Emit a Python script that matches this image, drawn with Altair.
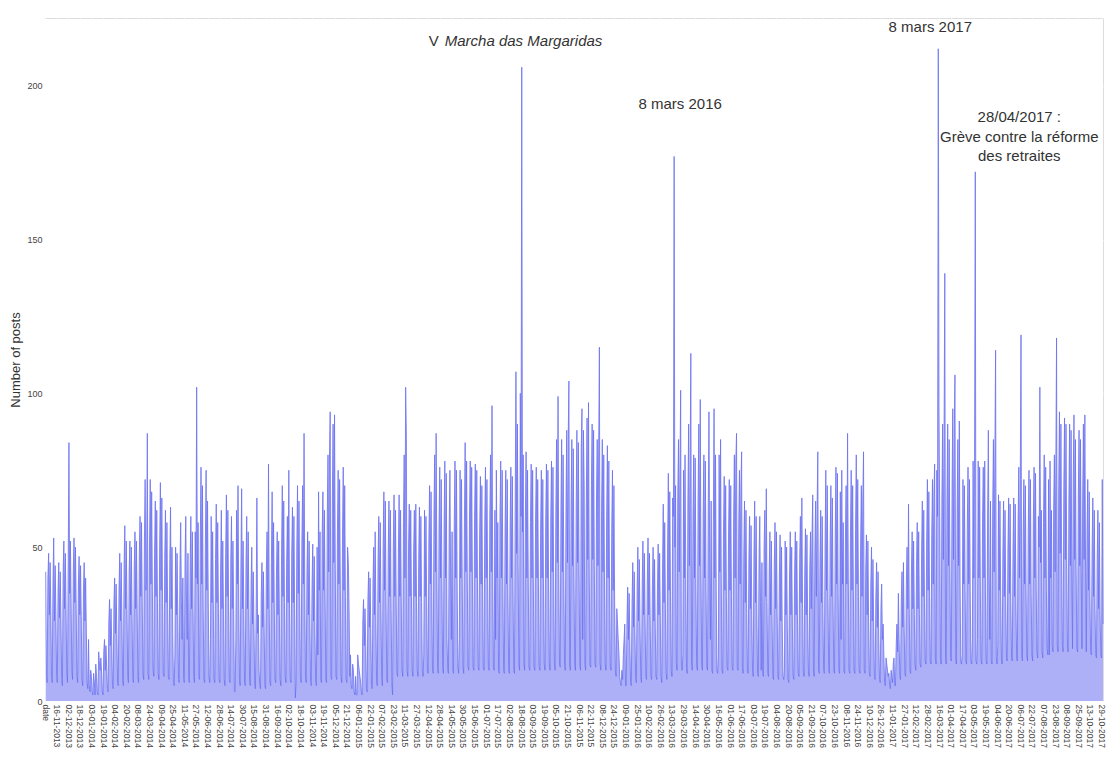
import altair as alt
import pandas as pd

# Daily number of posts (rows = Monday..Sunday weeks).
# 01-11-2013 (Fri) .. 05-01-2014
posts_2013 = [
    42, 8, 6,
    40, 48, 28, 45, 30, 8, 6,
    38, 53, 26, 44, 28, 8, 6,
    36, 45, 27, 42, 26, 7, 5,
    42, 52, 30, 48, 30, 9, 6,
    45, 84, 35, 52, 32, 10, 7,
    42, 53, 32, 50, 30, 8, 6,
    38, 47, 28, 44, 26, 7, 5,
    36, 45, 26, 40, 22, 6, 4,
    20, 5, 3, 10, 8, 3, 2,
]
# 06-01-2014 .. 04-01-2015
posts_2014 = [
    9, 6, 2, 12, 8, 3, 2,
    16, 12, 10, 14, 9, 3, 2,
    16, 20, 10, 18, 11, 4, 3,
    26, 33, 18, 30, 18, 5, 4,
    32, 40, 22, 38, 22, 6, 5,
    36, 48, 26, 45, 26, 7, 5,
    44, 57, 30, 52, 30, 8, 6,
    42, 52, 28, 50, 28, 7, 6,
    44, 55, 30, 52, 30, 8, 6,
    48, 60, 34, 58, 32, 9, 7,
    52, 72, 36, 40, 87, 9, 7,
    50, 72, 38, 68, 36, 10, 8,
    48, 65, 34, 62, 32, 9, 7,
    50, 71, 36, 66, 32, 9, 8,
    46, 62, 32, 58, 30, 8, 7,
    46, 63, 30, 50, 22, 6, 5,
    15, 50, 28, 48, 28, 7, 6,
    44, 58, 32, 20, 40, 7, 6,
    46, 60, 32, 20, 48, 7, 6,
    44, 60, 30, 55, 30, 8, 6,
    55, 40, 102, 38, 58, 8, 7,
    52, 76, 38, 70, 30, 7, 6,
    50, 75, 36, 65, 32, 8, 6,
    20, 60, 32, 55, 30, 7, 6,
    46, 64, 32, 58, 30, 7, 6,
    42, 62, 30, 52, 28, 7, 5,
    48, 67, 34, 62, 32, 7, 6,
    46, 60, 30, 52, 30, 3, 3,
    20, 62, 38, 70, 32, 7, 5,
    45, 69, 30, 52, 28, 6, 5,
    45, 60, 30, 55, 28, 6, 5,
    38, 50, 25, 42, 24, 5, 4,
    30, 66, 22, 28, 10, 5, 4,
    34, 45, 24, 42, 24, 5, 4,
    42, 55, 30, 77, 30, 6, 5,
    45, 68, 32, 58, 30, 7, 6,
    42, 55, 28, 52, 28, 7, 5,
    48, 70, 34, 65, 32, 8, 6,
    45, 60, 32, 75, 30, 7, 6,
    48, 63, 32, 60, 30, 1, 6,
    50, 70, 35, 65, 32, 8, 6,
    52, 70, 38, 87, 34, 8, 6,
    42, 55, 28, 52, 26, 6, 5,
    38, 51, 26, 47, 22, 6, 5,
    50, 15, 68, 36, 55, 7, 6,
    55, 68, 36, 62, 34, 7, 6,
    60, 80, 42, 78, 94, 8, 7,
    65, 90, 45, 93, 45, 8, 7,
    55, 75, 38, 72, 36, 8, 6,
    54, 76, 36, 70, 34, 7, 6,
    50, 45, 30, 8, 15, 5, 4,
    12, 10, 3, 2, 8, 2, 2,
]
# 05-01-2015 .. 03-01-2016
posts_2015 = [
    15, 12, 10, 8, 6, 3, 2,
    26, 33, 18, 30, 18, 4, 3,
    33, 42, 24, 40, 22, 5, 4,
    38, 50, 28, 55, 26, 6, 5,
    46, 60, 32, 58, 30, 7, 5,
    50, 68, 36, 65, 32, 7, 6,
    48, 65, 34, 62, 30, 6, 2,
    50, 67, 34, 62, 32, 9, 8,
    48, 67, 34, 62, 32, 10, 8,
    58, 80, 40, 102, 86, 10, 8,
    50, 64, 34, 62, 34, 10, 8,
    48, 62, 34, 64, 32, 10, 8,
    46, 63, 34, 60, 32, 10, 8,
    15, 62, 34, 60, 32, 10, 9,
    52, 70, 38, 68, 36, 10, 9,
    60, 80, 42, 87, 44, 11, 9,
    56, 76, 40, 72, 38, 11, 9,
    58, 78, 40, 74, 20, 10, 9,
    56, 75, 40, 20, 55, 10, 9,
    58, 78, 40, 75, 38, 11, 9,
    20, 75, 40, 72, 38, 11, 9,
    58, 84, 42, 78, 38, 11, 10,
    60, 78, 42, 76, 40, 11, 10,
    60, 77, 40, 75, 38, 11, 10,
    55, 73, 38, 70, 36, 11, 10,
    58, 76, 40, 72, 38, 11, 10,
    60, 80, 42, 96, 40, 11, 10,
    62, 20, 75, 40, 58, 10, 9,
    60, 78, 40, 75, 38, 10, 9,
    56, 75, 38, 72, 34, 10, 9,
    58, 76, 40, 73, 36, 10, 9,
    65, 107, 48, 90, 45, 12, 10,
    100, 60, 206, 55, 80, 12, 10,
    60, 81, 40, 75, 38, 11, 10,
    58, 77, 40, 75, 38, 11, 10,
    58, 76, 40, 72, 38, 11, 10,
    56, 75, 40, 72, 36, 12, 10,
    58, 77, 40, 75, 38, 12, 10,
    60, 78, 42, 76, 38, 12, 10,
    62, 85, 45, 99, 42, 12, 11,
    62, 85, 42, 80, 40, 12, 10,
    65, 88, 45, 85, 104, 12, 10,
    64, 85, 44, 82, 40, 12, 10,
    64, 88, 45, 84, 42, 12, 10,
    82, 95, 20, 88, 70, 12, 10,
    66, 92, 46, 97, 42, 12, 11,
    70, 90, 46, 88, 44, 12, 11,
    66, 85, 44, 82, 115, 12, 10,
    62, 85, 42, 80, 40, 12, 10,
    60, 83, 40, 78, 38, 11, 10,
    56, 75, 36, 70, 32, 10, 8,
    30, 25, 20, 15, 8, 6, 5,
]
# 04-01-2016 .. 01-01-2017
posts_2016 = [
    10, 7, 15, 20, 25, 5, 5,
    26, 37, 20, 35, 18, 6, 5,
    32, 45, 24, 42, 22, 7, 6,
    36, 50, 26, 46, 24, 8, 6,
    38, 52, 28, 48, 26, 8, 7,
    38, 53, 28, 48, 26, 8, 7,
    36, 50, 26, 46, 24, 8, 7,
    36, 51, 28, 48, 26, 8, 6,
    42, 64, 32, 58, 30, 9, 7,
    50, 74, 36, 68, 34, 10, 8,
    66, 60, 177, 50, 70, 12, 10,
    66, 85, 42, 75, 101, 12, 10,
    15, 75, 40, 80, 40, 11, 9,
    66, 90, 44, 75, 113, 12, 10,
    60, 80, 40, 79, 38, 12, 10,
    66, 90, 44, 98, 42, 12, 10,
    60, 80, 40, 78, 36, 11, 10,
    62, 94, 44, 20, 65, 10, 9,
    58, 95, 40, 80, 36, 10, 9,
    15, 80, 42, 85, 38, 10, 9,
    54, 73, 36, 70, 34, 11, 10,
    55, 72, 36, 70, 34, 11, 10,
    60, 80, 40, 78, 87, 11, 10,
    56, 75, 38, 70, 81, 11, 9,
    48, 65, 32, 62, 30, 10, 9,
    46, 60, 30, 57, 28, 10, 8,
    48, 65, 32, 60, 28, 9, 8,
    46, 60, 32, 10, 45, 9, 8,
    50, 62, 34, 69, 32, 9, 8,
    42, 55, 28, 52, 26, 8, 7,
    44, 58, 30, 55, 28, 8, 7,
    40, 54, 26, 50, 24, 8, 7,
    10, 52, 28, 50, 24, 7, 6,
    40, 55, 28, 50, 24, 8, 7,
    42, 55, 28, 52, 26, 9, 8,
    46, 60, 32, 66, 30, 10, 8,
    42, 56, 28, 54, 26, 10, 8,
    44, 55, 30, 54, 67, 10, 8,
    50, 65, 34, 62, 81, 10, 9,
    46, 62, 32, 60, 30, 10, 9,
    50, 75, 36, 70, 34, 10, 9,
    52, 70, 34, 66, 32, 10, 9,
    54, 76, 38, 74, 35, 10, 9,
    68, 20, 75, 38, 58, 10, 9,
    52, 70, 38, 87, 40, 10, 9,
    55, 75, 36, 70, 36, 10, 9,
    56, 80, 38, 72, 34, 10, 9,
    52, 70, 34, 66, 81, 10, 9,
    42, 54, 28, 52, 26, 9, 8,
    38, 50, 26, 46, 24, 8, 7,
    34, 45, 24, 42, 20, 7, 6,
    30, 38, 20, 25, 15, 6, 5,
]
# 02-01-2017 .. 31-10-2017 (None = day absent from the series)
posts_2017 = [
    14, 12, 10, 8, 9, 5, 4,
    10, 8, 6, 12, 14, 5, 5,
    18, 25, 16, 35, 20, 8, 7,
    32, 42, 24, 45, 24, 9, 8,
    38, 50, 30, 64, 30, 10, 9,
    42, 55, 30, 52, 28, 12, 10,
    44, 58, 30, 55, 28, 12, 11,
    48, 65, 34, 62, 32, 13, 12,
    52, 72, 36, 68, 34, 13, 12,
    54, 72, 38, 68, 77, 14, 12,
    75, 60, 212, 94, 60, 14, 12,
    66, 90, 46, 88, 139, 14, 12,
    66, 90, 44, 85, 46, 14, 13,
    70, 95, 46, 88, 106, 14, 12,
    62, 85, 44, 91, 40, 13, 12,
    15, 72, 38, 70, 36, 13, 12,
    56, 76, 38, 72, 36, 13, 12,
    20, 78, 40, 79, 172, 13, 12,
    20, 78, 40, 76, 36, 13, 12,
    58, 76, 40, 78, 36, 13, 12,
    60, 88, 42, 20, 65, 13, 12,
    62, 85, 42, 80, 114, 14, 12,
    18, 67, 36, 65, 34, 14, 12,
    48, 65, 34, 62, 32, 14, 13,
    50, 66, 35, 64, 32, 14, 13,
    50, 66, 34, 64, 32, 14, 13,
    58, 76, 40, 72, 119, 15, 13,
    54, 72, 38, 70, 36, 15, 13,
    55, 75, 38, 72, 35, 15, 13,
    58, 76, 40, 74, 36, 16, 14,
    60, 50, 102, 45, 62, 16, 14,
    58, 80, 40, 76, 36, 17, 15,
    72, 15, 78, 40, 62, 18, 16,
    62, 80, 42, 76, 118, 18, 16,
    70, 94, 48, 90, 46, 18, 16,
    70, 92, 46, 90, 45, 18, 16,
    66, 90, 44, 88, 42, 17, None,
    72, 93, 46, 85, 42, 17, 16,
    66, 88, 44, 85, 42, 17, None,
    66, 90, 46, 93, 42, 16, None,
    54, 72, 36, 68, 34, 16, 15,
    50, 66, 34, 62, 30, 15, 14,
    46, 62, 30, 58, 28, 15, 14,
    72, 25,
]

y_ticks = [0, 50, 100, 150, 200]

all_values = posts_2013 + posts_2014 + posts_2015 + posts_2016 + posts_2017
calendar = pd.date_range("2013-11-01", "2017-10-31", freq="D")
assert len(calendar) == len(all_values), (len(calendar), len(all_values))
rows = [(d.strftime("%d-%m-%Y"), v) for d, v in zip(calendar, all_values) if v is not None]
df = pd.DataFrame(rows, columns=["day", "posts"])

categories = ["date"] + df["day"].tolist()
tick_labels = categories[::16]

FONT = "Liberation Sans"
TEXT = "#333333"

xscale = alt.Scale(type="point", domain=categories, padding=0)
yscale = alt.Scale(domain=[0, 222], nice=False, zero=True)

area = alt.Chart(df).mark_area(
    color="#6a70f0", fillOpacity=0.55, interpolate="linear",
    line={"color": "#6a70f0", "strokeWidth": 0.8},
).encode(
    x=alt.X("day:N", sort=None, scale=xscale, title=None,
            axis=alt.Axis(values=tick_labels, labelAngle=90, labelFontSize=8.5,
                          labelColor="#444444", labelPadding=3, labelOverlap=False,
                          ticks=False, domain=False, grid=True, gridColor="white",
                          gridWidth=1)),
    y=alt.Y("posts:Q", scale=yscale, title="Number of posts",
            axis=alt.Axis(values=y_ticks, labelFontSize=9, labelColor="#444444",
                          labelPadding=3, ticks=False, domain=False, grid=True,
                          gridColor="white", gridWidth=1, titleFontSize=13,
                          titleFontWeight="normal", titleColor=TEXT, titlePadding=4)),
)

# annotations: (day, value of the peak, text, dx, dy, align, style)
notes = [
    ("19-08-2015", 206, "V", -83, -26, "right", "normal"),
    ("19-08-2015", 206, "Marcha das Margaridas", -77, -26, "left", "italic"),
    ("16-03-2016", 177, "8 mars 2016", 6, -52, "center", "normal"),
    ("15-03-2017", 212, "8 mars 2017", -8, -22, "center", "normal"),
    ("05-05-2017", 172, "28/04/2017 :", 44, -55, "center", "normal"),
    ("05-05-2017", 172, "Grève contre la réforme", 44, -35, "center", "normal"),
    ("05-05-2017", 172, "des retraites", 44, -16, "center", "normal"),
]

layers = [area]
for day, val, txt, dx, dy, align, style in notes:
    ndf = pd.DataFrame({"day": [day], "posts": [val], "label": [txt]})
    layers.append(
        alt.Chart(ndf).mark_text(
            dx=dx, dy=dy, align=align, baseline="middle", fontSize=15,
            font=FONT, fontStyle=style, color=TEXT,
        ).encode(
            x=alt.X("day:N", sort=None, scale=xscale, title=None),
            y=alt.Y("posts:Q", scale=yscale, title="Number of posts"),
            text="label:N",
        )
    )

chart = alt.layer(*layers).properties(
    width=1058, height=683,
    autosize=alt.AutoSizeParams(type="none"),
    padding={"left": 37, "top": 10, "right": 5, "bottom": 49},
).configure_view(fill="#E5ECF6", strokeWidth=0).configure_axis(
    labelFont=FONT, titleFont=FONT
).configure(background="white")

chart.save("out.html", embed_options={"renderer": "svg", "actions": False})
